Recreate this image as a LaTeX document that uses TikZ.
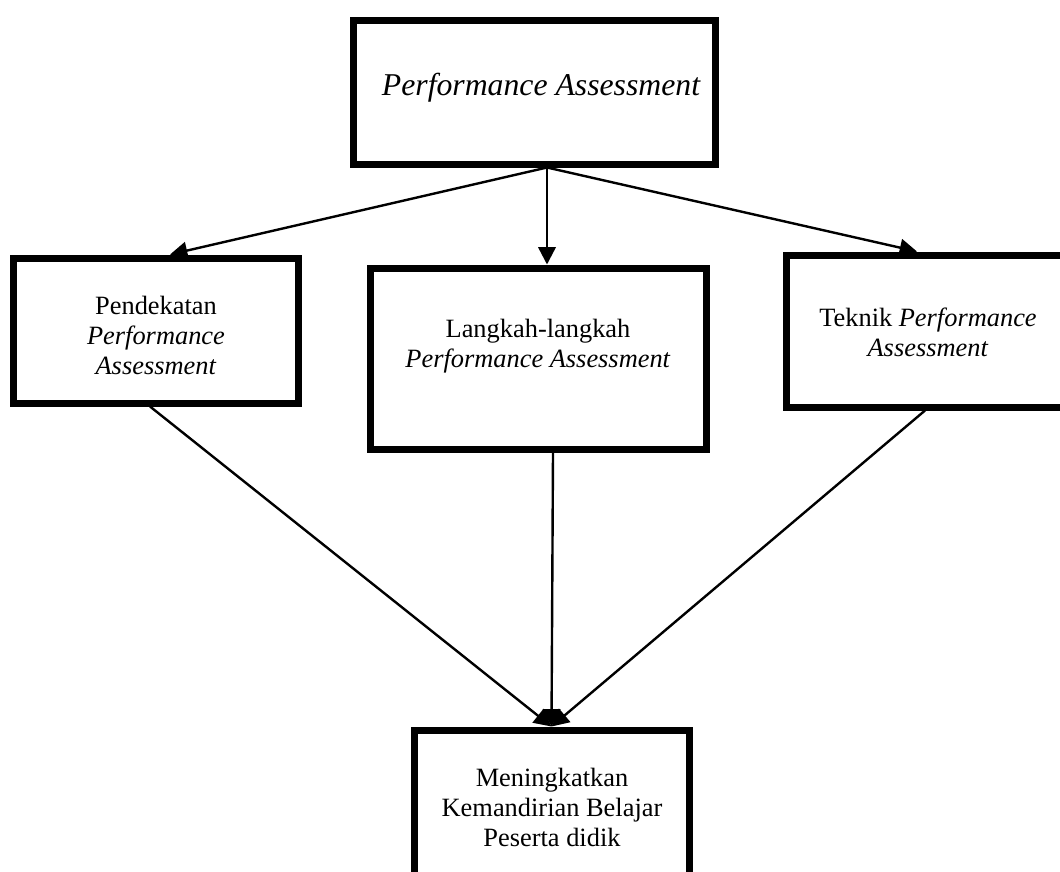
\documentclass[tikz,border=0pt]{standalone}
\usepackage{fontspec}
\setmainfont{Liberation Serif}
\usetikzlibrary{arrows.meta}

\begin{document}
\begin{tikzpicture}
    [ x=0.75pt, y=-0.75pt
    , box/.style={draw, rectangle, line width=5.25pt}
    , txt/.style={align=center, font=\fontsize{19.8}{22.5}\selectfont}
    , link/.style={line width=1.8pt, -{Triangle[length=13pt,width=13pt]}}
    ]
\useasboundingbox (0,0) rectangle (1060,871);
\clip (0,0) rectangle (1060,871);
% boxes
\node[box, minimum width=271.5pt, minimum height=108pt] (top) at (534,92) {};
\node[box, minimum width=213.75pt, minimum height=108.75pt] (lbox) at (155.5,330.5) {};
\node[box, minimum width=252pt, minimum height=135.75pt] (mbox) at (538,358.5) {};
\node[box, minimum width=213pt, minimum height=114pt] (rbox) at (928,331) {};
\node[box, minimum width=206.25pt, minimum height=127.5pt] (bbox) at (551.5,815) {};
% texts
\node[txt, anchor=base, font=\fontsize{23.8}{27}\selectfont\itshape] (toptext) at (541,95) {Performance Assessment};
\node[txt] (ltext) at (156,335) {Pendekatan\\ \textit{Performance}\\ \textit{Assessment}};
\node[txt] (mtext) at (538,346) {Langkah-langkah\\ \textit{Performance Assessment}};
\node[txt] (rtext) at (928,332) {Teknik \textit{Performance}\\ \textit{Assessment}};
\node[txt] (btext) at (552,807) {Meningkatkan\\ Kemandirian Belajar\\ Peserta didik};
% arrows
\coordinate (fork) at ([xshift=9.75pt]top.south);
\draw[link] (fork) -- ([xshift=10.9pt]lbox.north);
\draw[link] (fork) -- (fork |- mbox.north);
\draw[link] (fork) -- ([xshift=-8.25pt]rbox.north);
\draw[link] ([xshift=-4.1pt]lbox.south) -- (bbox.north);
\draw[link] ([xshift=11.25pt]mbox.south) -- (bbox.north);
\draw[link] ([xshift=-2.25pt]rbox.south) -- (bbox.north);
\end{tikzpicture}
\end{document}
